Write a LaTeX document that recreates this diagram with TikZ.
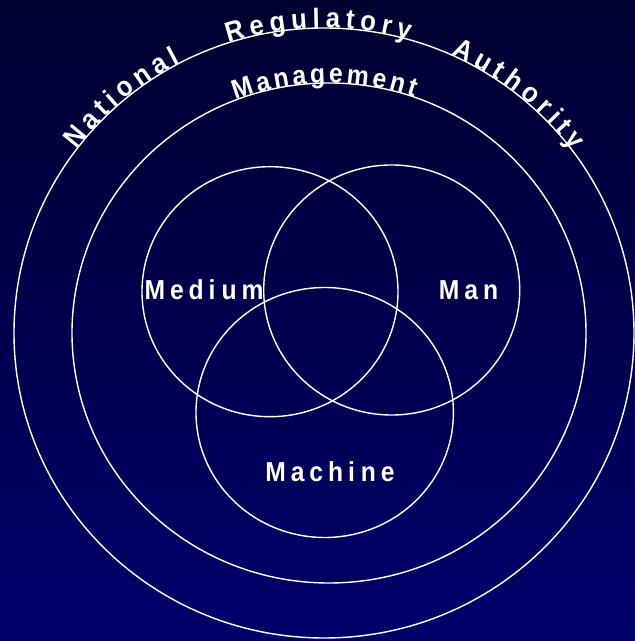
\documentclass[tikz,border=0pt]{standalone}
\usepackage{fontspec}
\setmainfont{Liberation Sans}
\newfontfamily\lblfont{Liberation Sans}[LetterSpace=18, FakeStretch=0.9]
\newfontfamily\arcfont{Liberation Sans}[FakeStretch=0.92]
\usetikzlibrary{decorations.text}
\definecolor{bgtop}{HTML}{000030}
\definecolor{bgbot}{HTML}{00006B}
\tikzset{
  ring/.style={draw=white, line width=1.4bp},
  lbl/.style={text=white, font=\lblfont\bfseries\fontsize{27.5}{32}\selectfont, inner sep=0pt, anchor=base},
  arctext/.style={decorate, decoration={text along path, text align=fit to path, text color=white, text={#1}}}
}
\begin{document}
\begin{tikzpicture}[x=1bp, y=1bp]
\useasboundingbox (0,0) rectangle (635,641);
\shade[top color=bgtop, bottom color=bgbot] (0,0) rectangle (635,641);
% centres
\coordinate (outerc) at (324,308);
\coordinate (mgmtc) at (329,308);
\coordinate (mediumc) at (270,349.3);
\coordinate (manc) at (391.7,351);
\coordinate (machinec) at (324.7,228.5);
% circles
\draw[ring] (outerc) ellipse [x radius=310bp, y radius=305bp];
\draw[ring] (mgmtc) ellipse [x radius=257bp, y radius=250bp];
\draw[ring] (mediumc) ellipse [x radius=128bp, y radius=125bp];
\draw[ring] (manc) ellipse [x radius=128bp, y radius=125bp];
\draw[ring] (machinec) ellipse [x radius=128.7bp, y radius=125bp];
% labels
\node[lbl] (medium) at (204,341) {Medi\hspace{6bp}um};
\node[lbl] (man) at (468.5,341) {Man};
\node[lbl] (machine) at (330,159) {Machi\hspace{6bp}ne};
% curved texts
\path[shift={(outerc)}, arctext={|\arcfont\bfseries\fontsize{28}{32}\selectfont|National}]
  (143:310bp and 305bp) arc[start angle=143, end angle=117.6, x radius=310bp, y radius=305bp];
\path[shift={(outerc)}, arctext={|\arcfont\bfseries\fontsize{28}{32}\selectfont|Regulatory}]
  (108:310bp and 305bp) arc[start angle=108, end angle=74, x radius=310bp, y radius=305bp];
\path[shift={(outerc)}, arctext={|\arcfont\bfseries\fontsize{28}{32}\selectfont|Authority}]
  (65.8:310bp and 305bp) arc[start angle=65.8, end angle=36.7, x radius=310bp, y radius=305bp];
\path[shift={(mgmtc)}, arctext={|\arcfont\bfseries\fontsize{27}{31}\selectfont|Management}]
  (111.3:257bp and 250bp) arc[start angle=111.3, end angle=70.7, x radius=257bp, y radius=250bp];
\end{tikzpicture}
\end{document}
